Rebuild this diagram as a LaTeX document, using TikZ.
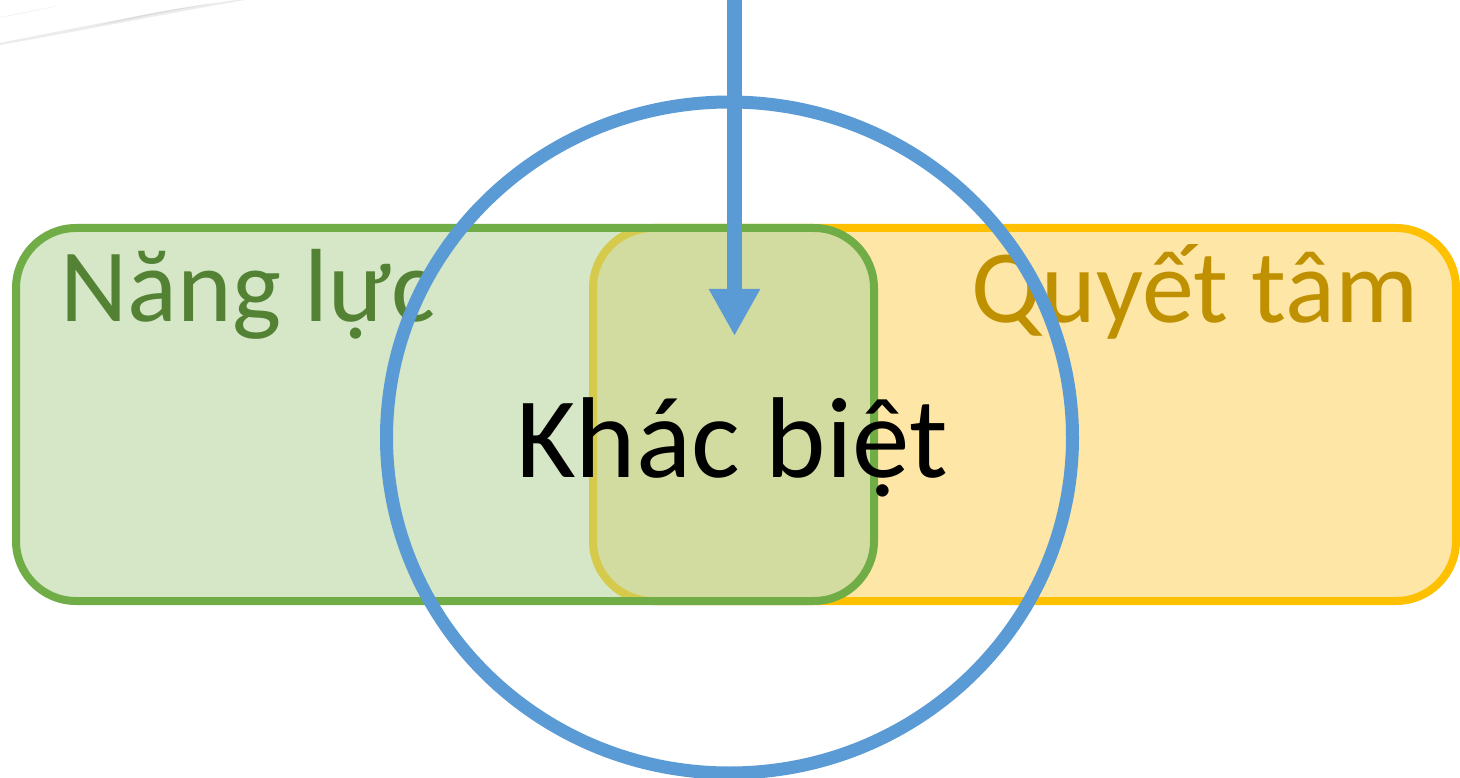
\documentclass[tikz,border=0pt]{standalone}
\usepackage{fontspec}
\setmainfont{Carlito}
\usetikzlibrary{arrows.meta,shapes.geometric}
\definecolor{gstroke}{HTML}{70AD47}
\definecolor{gfill}{HTML}{D5E7C6}
\definecolor{ystroke}{HTML}{FFC000}
\definecolor{yfill}{HTML}{FEE7A6}
\definecolor{ofill}{HTML}{D3DCA0}
\definecolor{ydim}{HTML}{D5CA4B}
\definecolor{gtext}{HTML}{548235}
\definecolor{ytext}{HTML}{BF9000}
\definecolor{blue}{HTML}{5B9BD5}
\tikzset{
  box/.style={rounded corners=60pt, line width=8pt},
  lbl/.style={anchor=base, inner sep=0pt, font=\fontsize{104}{120}\selectfont},
  big/.style={anchor=base, inner sep=0pt, font=\fontsize{115}{130}\selectfont},
  ring/.style={draw=blue, line width=13pt},
  arr/.style={draw=blue, line width=15pt, -{Triangle[width=48pt,length=47pt]}}
}
\begin{document}
\begin{tikzpicture}[x=1pt,y=-1pt]
\useasboundingbox (0,0) rectangle (1460,778);
\fill[white] (0,0) rectangle (1460,778);
% faint swoosh at top left
\fill[black!14, opacity=0.5] (0,45) .. controls (90,29) and (170,13) .. (245,0) -- (236,0) .. controls (165,10) and (90,25) .. (0,43) -- cycle;
\fill[black!20, opacity=0.5] (95,26) .. controls (130,19) and (170,11) .. (215,3) .. controls (170,9) and (130,17) .. (95,26) -- cycle;
\fill[black!8, opacity=0.5] (0,17) .. controls (20,13) and (40,9) .. (55,6) -- (55,7) .. controls (40,10) and (20,14) .. (0,18) -- cycle;
% yellow box
\path[box, fill=yfill, draw=ystroke] (593,228) rectangle (1456,601);
% green box
\path[box, fill=gfill] (16,228) rectangle (874,601);
\begin{scope}
  \clip[rounded corners=60pt] (16,228) rectangle (874,601);
  \path[box, fill=ofill, draw=ydim] (593,228) rectangle (1456,601);
\end{scope}
\path[box, draw=gstroke] (16,228) rectangle (874,601);
% labels
\node[lbl, text=gtext] (nangluc) at (248,322) {Năng lực};
\node[lbl, text=ytext] (quyettam) at (1195,323) {Quyết tâm};
\node[big, text=black] (khacbiet) at (732,477) {Khác biệt};
% circle
\node[ring, ellipse, minimum width=686pt, minimum height=671pt, inner sep=0pt] (ring) at (729.5,437.5) {};
% arrow
\coordinate (astart) at (734.5,0);
\coordinate (atip) at (734.5,336);
\draw[arr] (astart) -- (atip);
\end{tikzpicture}
\end{document}
